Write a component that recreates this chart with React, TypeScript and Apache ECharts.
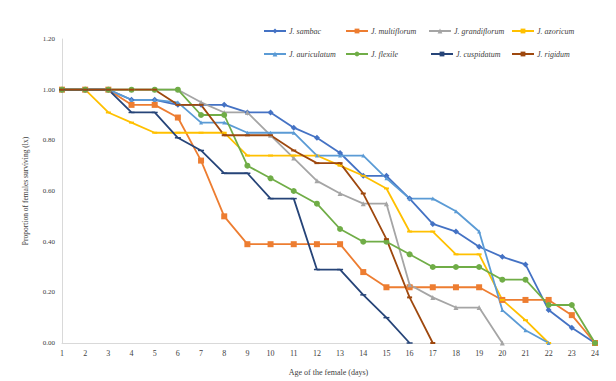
import React, { useEffect, useRef } from "react";
import * as echarts from "echarts";

const days = ["1","2","3","4","5","6","7","8","9","10","11","12","13","14","15","16","17","18","19","20","21","22","23","24"];
const seriesNames = ["J. sambac","J. multiflorum","J. grandiflorum","J. azoricum","J. auriculatum","J. flexile","J. cuspidatum","J. rigidum"];
const sambac = [1,1,1,0.96,0.96,0.94,0.94,0.94,0.91,0.91,0.85,0.81,0.75,0.66,0.66,0.57,0.47,0.44,0.38,0.34,0.31,0.13,0.06,0];
const multiflorum = [1,1,1,0.94,0.94,0.89,0.72,0.50,0.39,0.39,0.39,0.39,0.39,0.28,0.22,0.22,0.22,0.22,0.22,0.17,0.17,0.17,0.11,0];
const grandiflorum = [1,1,1,1,1,1,0.95,0.91,0.91,0.82,0.73,0.64,0.59,0.55,0.55,0.23,0.18,0.14,0.14,0,null,null,null,null];
const azoricum = [1,1,0.91,0.87,0.83,0.83,0.83,0.83,0.74,0.74,0.74,0.74,0.70,0.66,0.61,0.44,0.44,0.35,0.35,0.17,0.09,0,null,null];
const auriculatum = [1,1,1,0.96,0.96,0.95,0.87,0.87,0.83,0.83,0.83,0.74,0.74,0.74,0.65,0.57,0.57,0.52,0.44,0.13,0.05,0,null,null];
const flexile = [1,1,1,1,1,1,0.90,0.90,0.70,0.65,0.60,0.55,0.45,0.40,0.40,0.35,0.30,0.30,0.30,0.25,0.25,0.15,0.15,0];
const cuspidatum = [1,1,1,0.91,0.91,0.81,0.76,0.67,0.67,0.57,0.57,0.29,0.29,0.19,0.10,0,null,null,null,null,null,null,null,null];
const rigidum = [1,1,1,1,1,0.94,0.94,0.82,0.82,0.82,0.76,0.71,0.71,0.59,0.41,0.18,0,null,null,null,null,null,null,null];
const allData = [sambac, multiflorum, grandiflorum, azoricum, auriculatum, flexile, cuspidatum, rigidum];

const colors = ["#4472C4","#ED7D31","#A5A5A5","#FFC000","#5B9BD5","#70AD47","#264478","#9E480E"];
const symbols = ["diamond","rect","triangle","rect","triangle","circle","rect","rect"];
const symbolSizes: any[] = [6,6,5,[5,2],4,6,[6,1.5],[5,2]];
const legendLeft = [263,345,428,511,263,345,430,511];
const legendTop = [27,27,27,27,50,50,50,50];

const FONT = "'Liberation Serif', 'DejaVu Serif', serif";

export default function App() {
  const ref = useRef<HTMLDivElement>(null);
  useEffect(() => {
    if (!ref.current) return;
    const chart = echarts.init(ref.current, undefined, { renderer: "svg" });
    chart.setOption({
      animation: false,
      backgroundColor: "#ffffff",
      legend: seriesNames.map((n, i) => ({
        data: [n],
        left: legendLeft[i],
        top: legendTop[i],
        itemWidth: 22,
        itemHeight: 6,
        itemGap: 0,
        padding: 0,
        textStyle: { fontFamily: FONT, fontStyle: "italic", fontSize: 8, color: "#404040", padding: [0, 0, 0, -2] },
      })),
      grid: { left: 62, right: 21, top: 39, bottom: 36 },
      xAxis: {
        type: "category",
        data: days,
        boundaryGap: false,
        name: "Age of the female (days)",
        nameLocation: "middle",
        nameGap: 25,
        nameTextStyle: { fontFamily: FONT, fontSize: 8, color: "#404040" },
        axisLine: { lineStyle: { color: "#d9d9d9", width: 1 } },
        axisTick: { show: false },
        axisLabel: { fontFamily: FONT, fontSize: 8, color: "#404040", margin: 6 },
      },
      yAxis: {
        type: "value",
        min: 0,
        max: 1.2,
        interval: 0.2,
        name: "Proportion of females surviving (lx)",
        nameLocation: "middle",
        nameGap: 33,
        nameTextStyle: { fontFamily: FONT, fontSize: 7.5, color: "#404040" },
        axisLine: { show: true, lineStyle: { color: "#d9d9d9", width: 1 } },
        axisTick: { show: false },
        splitLine: { show: false },
        axisLabel: { fontFamily: FONT, fontSize: 7, color: "#404040", margin: 7, formatter: (v: number) => v.toFixed(2) },
      },
      series: seriesNames.map((n, i) => ({
        name: n,
        type: "line",
        data: allData[i],
        color: colors[i],
        symbol: symbols[i],
        symbolSize: symbolSizes[i],
        showSymbol: true,
        lineStyle: { width: 1.8, color: colors[i] },
        itemStyle: { color: colors[i] },
        connectNulls: false,
      })),
    });
    return () => chart.dispose();
  }, []);
  return <div ref={ref} style={{ position: "absolute", left: 0, top: 0, width: 616, height: 381 }} />;
}
